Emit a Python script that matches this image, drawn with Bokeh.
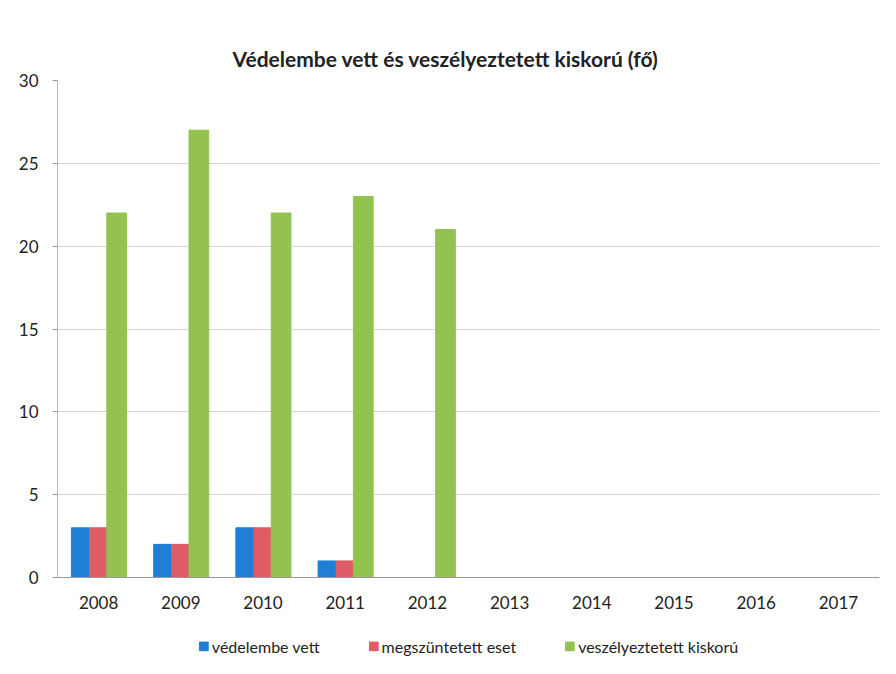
from bokeh.plotting import figure
from bokeh.models import ColumnDataSource, FactorRange, Legend, LegendItem, SingleIntervalTicker
from bokeh.layouts import column
from bokeh.transform import dodge
from bokeh.embed import file_html
from bokeh.resources import INLINE

years = ["2008", "2009", "2010", "2011", "2012", "2013", "2014", "2015", "2016", "2017"]
vedelembe_vett = [3, 2, 3, 1, 0, 0, 0, 0, 0, 0]
megszuntetett_eset = [3, 2, 3, 1, 0, 0, 0, 0, 0, 0]
veszelyeztetett_kiskoru = [22, 27, 22, 23, 21, 0, 0, 0, 0, 0]
series_names = ["védelembe vett", "megszüntetett eset", "veszélyeztetett kiskorú"]
colors = ["#1f7fd6", "#e05c66", "#93c24e"]

src = ColumnDataSource(dict(year=years, a=vedelembe_vett, b=megszuntetett_eset, c=veszelyeztetett_kiskoru))

FONT = "Lato"
p = figure(x_range=FactorRange(*years), y_range=(0, 30), width=880, height=611,
           output_backend="svg", toolbar_location=None,
           min_border_left=57, min_border_right=1, min_border_top=80, min_border_bottom=34)
p.title.text = "Védelembe vett és veszélyeztetett kiskorú (fő)"
p.title.text_font = FONT
p.title.text_font_size = "21px"
p.title.text_font_style = "bold"
p.title.text_color = "#222222"
p.title.align = "left"
p.title.offset = 175
p.title.standoff = 20

p.vbar(x=dodge("year", -0.22, range=p.x_range), top="a", width=0.22, source=src, color=colors[0])
p.vbar(x=dodge("year", 0.0, range=p.x_range), top="b", width=0.22, source=src, color=colors[1])
p.vbar(x=dodge("year", 0.22, range=p.x_range), top="c", width=0.24, source=src, color=colors[2])

p.outline_line_color = None
p.xgrid.grid_line_color = None
p.ygrid.grid_line_color = "#d6d6d6"
p.yaxis.ticker = SingleIntervalTicker(interval=5)
p.x_range.range_padding = 0
p.xaxis.major_tick_line_color = None
p.xaxis.axis_line_color = "#999999"
p.yaxis.axis_line_color = "#bbbbbb"
p.yaxis.major_tick_line_color = "#999999"
p.yaxis.major_tick_out = 5
p.yaxis.major_tick_in = 0
p.yaxis.minor_tick_line_color = None
for ax in (p.xaxis, p.yaxis):
    ax.major_label_text_font = FONT
    ax.major_label_text_font_size = "17px"
    ax.major_label_text_color = "#222222"
p.xaxis.major_label_standoff = 12
p.yaxis.major_label_standoff = 14

# legend strip
q = figure(width=880, height=55, x_range=(0, 1), y_range=(0, 1), output_backend="svg",
           toolbar_location=None, min_border=0, min_border_top=14)
q.axis.visible = False
q.grid.visible = False
q.outline_line_color = None
dummy = [q.vbar(x=[0.5], top=[-5], bottom=[-6], width=0.1, color=c) for c in colors]
legend = Legend(items=[LegendItem(label=n, renderers=[r]) for n, r in zip(series_names, dummy)],
                orientation="horizontal", location="center", border_line_color=None,
                background_fill_alpha=0,
                label_text_font=FONT, label_text_font_size="16px", label_text_color="#222222",
                glyph_width=11, glyph_height=11, spacing=48, label_standoff=3, margin=0, padding=0)
q.add_layout(legend)

layout = column(p, q, spacing=0)
open("out.html", "w").write(file_html(layout, INLINE))
